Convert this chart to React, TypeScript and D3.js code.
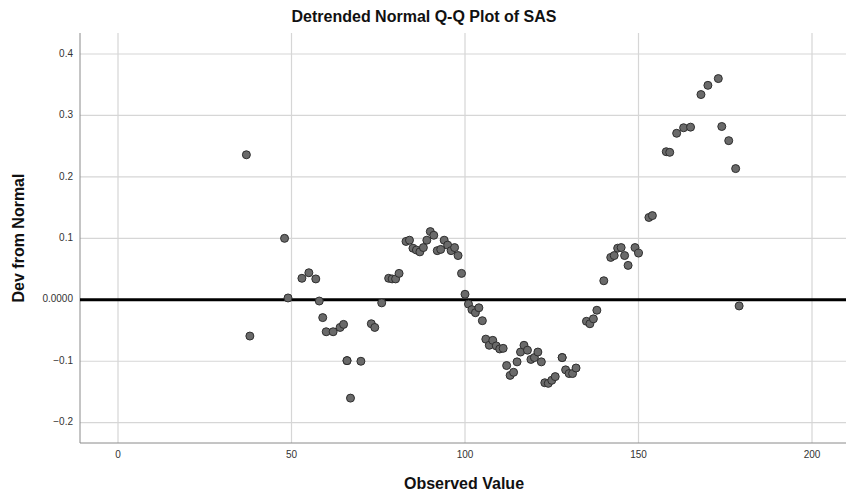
import { useRef, useEffect } from 'react'
import * as d3 from 'd3'

// Observed SAS values and their deviation from normal
const observed = [
  37, 38, 48, 49, 53, 55, 57, 58, 59, 60, 62, 64, 65, 66, 66, 67, 70, 73, 74, 76,
  78, 79, 80, 81, 83, 84, 85, 86, 87, 88, 89, 90, 91, 92, 93, 94, 95, 96, 97, 98,
  99, 100, 101, 102, 103, 104, 105, 106, 107, 108, 109, 110, 111, 112, 113, 114, 115, 116, 117, 118,
  119, 120, 121, 122, 123, 124, 125, 126, 128, 128, 129, 130, 131, 132, 135, 136, 137, 138, 140, 142,
  143, 144, 145, 146, 147, 149, 150, 153, 154, 158, 159, 161, 163, 165, 168, 170, 173, 174, 176, 178,
  179,
]
const deviation = [
  0.236, -0.059, 0.100, 0.003, 0.035, 0.044, 0.034, -0.002, -0.029, -0.052, -0.052, -0.045, -0.040, -0.099, -0.099, -0.160, -0.100, -0.039, -0.045, -0.005,
  0.035, 0.034, 0.034, 0.043, 0.095, 0.097, 0.084, 0.081, 0.078, 0.085, 0.097, 0.111, 0.105, 0.080, 0.082, 0.097, 0.089, 0.080, 0.085, 0.072,
  0.043, 0.009, -0.007, -0.016, -0.021, -0.013, -0.034, -0.064, -0.074, -0.066, -0.075, -0.080, -0.079, -0.107, -0.123, -0.118, -0.101, -0.085, -0.074, -0.082,
  -0.097, -0.094, -0.085, -0.101, -0.135, -0.136, -0.131, -0.125, -0.094, -0.094, -0.114, -0.120, -0.120, -0.111, -0.035, -0.039, -0.031, -0.017, 0.031, 0.069,
  0.072, 0.084, 0.085, 0.072, 0.056, 0.085, 0.076, 0.134, 0.137, 0.241, 0.240, 0.271, 0.280, 0.281, 0.334, 0.349, 0.360, 0.282, 0.259, 0.2135,
  -0.010,
]
const xTicks = [0, 50, 100, 150, 200]
const yTicks = [-0.2, -0.1, 0, 0.1, 0.2, 0.3, 0.4]

export default function App() {
  const svgRef = useRef<SVGSVGElement>(null)

  useEffect(() => {
    const width = 846
    const height = 497
    const left = 80, right = 846, top = 33, bottom = 443
    const font = '"Liberation Sans", Arial, sans-serif'

    const svg = d3.select(svgRef.current).attr('width', width).attr('height', height)
    svg.selectAll('*').remove()
    svg.append('rect').attr('width', width).attr('height', height).attr('fill', '#fff')

    const x = d3.scaleLinear().domain([0, 200]).range([118, 812])
    const y = d3.scaleLinear().domain([-0.2, 0.4]).range([422.7, 54])

    // grilla
    svg.selectAll('line.gy')
      .data(yTicks.filter(t => t !== 0))
      .join('line')
      .attr('class', 'gy')
      .attr('x1', left).attr('x2', right)
      .attr('y1', d => y(d)).attr('y2', d => y(d))
      .attr('stroke', '#d6d6d6').attr('stroke-width', 1.2)

    svg.selectAll('line.gx')
      .data(xTicks)
      .join('line')
      .attr('class', 'gx')
      .attr('x1', d => x(d)).attr('x2', d => x(d))
      .attr('y1', top).attr('y2', bottom)
      .attr('stroke', '#d6d6d6').attr('stroke-width', 1.2)

    // ejes
    svg.append('line').attr('x1', left).attr('x2', left).attr('y1', top).attr('y2', bottom)
      .attr('stroke', '#8a8a8a').attr('stroke-width', 1)
    svg.append('line').attr('x1', left).attr('x2', right).attr('y1', bottom).attr('y2', bottom)
      .attr('stroke', '#8a8a8a').attr('stroke-width', 1)

    // línea de referencia en cero
    svg.append('line').attr('x1', left).attr('x2', right).attr('y1', y(0)).attr('y2', y(0))
      .attr('stroke', '#000').attr('stroke-width', 3)

    // etiquetas de ticks
    svg.selectAll('text.ty')
      .data(yTicks)
      .join('text')
      .attr('class', 'ty')
      .attr('x', 73)
      .attr('y', d => y(d))
      .attr('text-anchor', 'end')
      .attr('dominant-baseline', 'middle')
      .attr('font-family', font).attr('font-size', '10px').attr('fill', '#333')
      .text(d => (d === 0 ? '0.0000' : d3.format('.1f')(d)))

    svg.selectAll('text.tx')
      .data(xTicks)
      .join('text')
      .attr('class', 'tx')
      .attr('x', d => x(d))
      .attr('y', 455)
      .attr('text-anchor', 'middle')
      .attr('dominant-baseline', 'middle')
      .attr('font-family', font).attr('font-size', '10px').attr('fill', '#333')
      .text(d => String(d))

    // puntos
    const pts = observed.map((o, i) => ({ o, d: deviation[i] }))
    svg.selectAll('circle')
      .data(pts)
      .join('circle')
      .attr('cx', p => x(p.o))
      .attr('cy', p => y(p.d))
      .attr('r', 4)
      .attr('fill', '#6a6a6a')
      .attr('stroke', '#2e2e2e')
      .attr('stroke-width', 1)

    // títulos
    svg.append('text').attr('x', 424).attr('y', 18)
      .attr('text-anchor', 'middle').attr('dominant-baseline', 'middle')
      .attr('font-family', font).attr('font-size', '16px').attr('font-weight', 'bold').attr('fill', '#111')
      .text('Detrended Normal Q-Q Plot of SAS')

    svg.append('text').attr('x', 464).attr('y', 485)
      .attr('text-anchor', 'middle').attr('dominant-baseline', 'middle')
      .attr('font-family', font).attr('font-size', '16px').attr('font-weight', 'bold').attr('fill', '#111')
      .text('Observed Value')

    svg.append('text')
      .attr('transform', 'translate(20, 238) rotate(-90)')
      .attr('text-anchor', 'middle').attr('dominant-baseline', 'middle')
      .attr('font-family', font).attr('font-size', '16px').attr('font-weight', 'bold').attr('fill', '#111')
      .text('Dev from Normal')
  }, [])

  return <svg ref={svgRef} style={{ display: 'block', position: 'absolute', left: 0, top: 0 }} />
}
